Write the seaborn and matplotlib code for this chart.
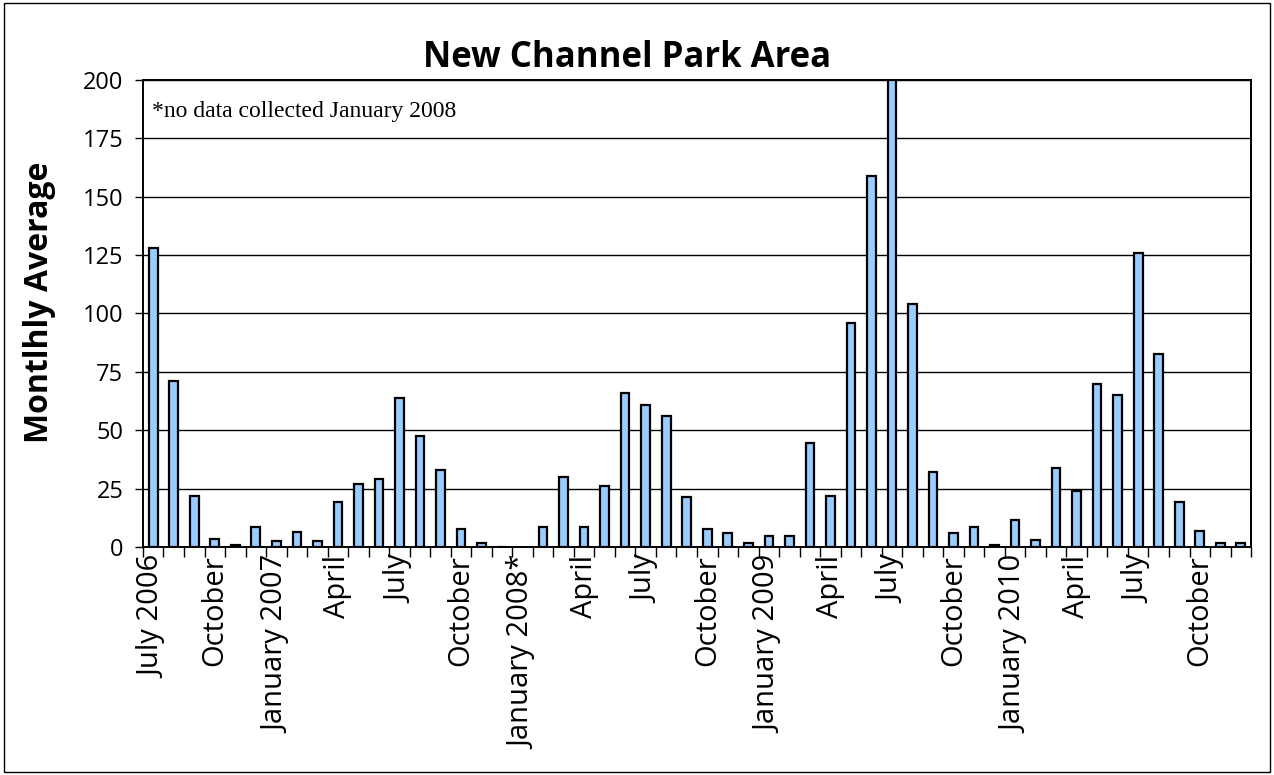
import numpy as np
import pandas as pd
import matplotlib
matplotlib.use('Agg')
import matplotlib.pyplot as plt
import seaborn as sns

# monthly data, July 2006 - December 2010 (January 2008 not collected)
months = ['2006-07', '2006-08', '2006-09', '2006-10', '2006-11', '2006-12',
          '2007-01', '2007-02', '2007-03', '2007-04', '2007-05', '2007-06',
          '2007-07', '2007-08', '2007-09', '2007-10', '2007-11', '2007-12',
          '2008-01', '2008-02', '2008-03', '2008-04', '2008-05', '2008-06',
          '2008-07', '2008-08', '2008-09', '2008-10', '2008-11', '2008-12',
          '2009-01', '2009-02', '2009-03', '2009-04', '2009-05', '2009-06',
          '2009-07', '2009-08', '2009-09', '2009-10', '2009-11', '2009-12',
          '2010-01', '2010-02', '2010-03', '2010-04', '2010-05', '2010-06',
          '2010-07', '2010-08', '2010-09', '2010-10', '2010-11', '2010-12']
values = [128, 71, 22, 3.5, 0.8, 8.5,
          2.7, 6.5, 2.7, 19.3, 27, 29,
          64, 47.5, 32.8, 7.5, 1.8, 0,
          np.nan, 8.7, 30, 8.7, 26, 66,
          61, 56, 21.2, 7.5, 5.8, 1.8,
          4.7, 4.7, 44.5, 22, 96, 159,
          200, 104, 32, 6, 8.7, 0.8,
          11.5, 3, 34, 24, 70, 65,
          126, 82.5, 19.3, 6.8, 1.8, 1.8]
tick_labels = ['July 2006', 'October', 'January 2007', 'April', 'July', 'October',
               'January 2008*', 'April', 'July', 'October', 'January 2009', 'April',
               'July', 'October', 'January 2010', 'April', 'July', 'October']

df = pd.DataFrame({'month': months, 'avg': values})

sns.set_style('white')
plt.rcParams['font.family'] = ['Open Sans', 'DejaVu Sans']
plt.rcParams['text.color'] = 'black'
plt.rcParams['axes.labelcolor'] = 'black'
plt.rcParams['xtick.color'] = 'black'
plt.rcParams['ytick.color'] = 'black'

fig = plt.figure(figsize=(12.74, 7.75), dpi=100)
ax = fig.add_axes([0.1122, 0.2942, 0.8698, 0.6026])

sns.barplot(data=df, x='month', y='avg', order=months, color='#99CCFF',
            saturation=1, edgecolor='black', linewidth=1.6, width=0.42, ax=ax)

ax.set_xlim(-0.5, len(months) - 0.5)
ax.set_ylim(0, 200)
ax.set_yticks(np.arange(0, 201, 25))
ax.yaxis.grid(True, color='black', linewidth=1)
ax.set_axisbelow(True)
for s in ax.spines.values():
    s.set_color('black')
    s.set_linewidth(1.4)

# tick marks between months, labels every third month
ax.set_xticks(np.arange(-0.5, len(months), 1))
ax.set_xticklabels([])
ax.set_xticks(np.arange(0, len(months), 3), minor=True)
ax.set_xticklabels(tick_labels, minor=True, rotation=90, fontsize=21)
ax.tick_params(axis='x', which='major', direction='out', length=7, width=1, bottom=True)
ax.tick_params(axis='x', which='minor', length=0, pad=6)
ax.tick_params(axis='y', direction='out', length=6, width=1, left=True, labelsize=17, pad=8)

ax.set_xlabel('')
ax.set_ylabel('')
fig.text(0.031, 0.61, 'Montlhly Average', rotation=90, fontsize=23, fontweight='bold',
         ha='center', va='center')
fig.text(0.492, 0.925, 'New Channel Park Area', fontsize=25, fontweight='bold',
         ha='center', va='center')

ax.text(0.008, 0.955, '*no data collected January 2008', transform=ax.transAxes,
        fontsize=17, family='Liberation Serif', va='top', ha='left')

# outer chart border
fig.patches.append(plt.Rectangle((0.003, 0.004), 0.994, 0.992, transform=fig.transFigure,
                                 fill=False, edgecolor='black', linewidth=1))

fig.savefig('out.png', dpi=100)
